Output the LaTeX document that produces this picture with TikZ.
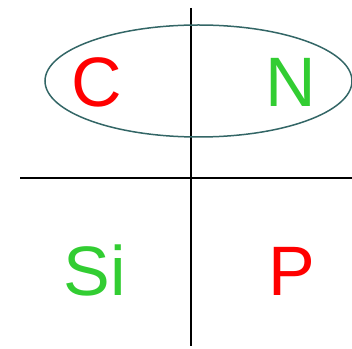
\documentclass[tikz,border=0pt]{standalone}
\usepackage{fontspec}
\setmainfont{Liberation Sans}
\usetikzlibrary{shapes.geometric}
\definecolor{elemred}{RGB}{255,0,0}
\definecolor{elemgreen}{RGB}{50,205,50}
\definecolor{ringcol}{RGB}{51,102,102}
\tikzset{
  elem/.style={font=\fontsize{70}{70}\selectfont, inner sep=0pt, anchor=base},
  axis/.style={line width=2pt, black}
}
\begin{document}
\begin{tikzpicture}[x=1pt, y=1pt]
  \useasboundingbox (0, 0) rectangle (352, 348);
  % axes
  \coordinate (top) at (191, 340);
  \coordinate (bottom) at (191, 2);
  \coordinate (left) at (20, 170);
  \coordinate (right) at (353, 170);
  \draw[axis] (top) -- (bottom);
  \draw[axis] (left) -- (right);

  % ring round the upper pair
  \node[draw=ringcol, line width=1.5pt, ellipse, minimum width=307pt, minimum height=112pt, inner sep=0pt] (pair) at (198.5, 267) {};

  % elements
  \node[elem, text=elemred] (C) at (96.5, 241) {C};
  \node[elem, text=elemgreen] (N) at (291, 241) {N};
  \node[elem, text=elemgreen] (Si) at (95, 53) {Si};
  \node[elem, text=elemred] (P) at (291.5, 53) {P};
\end{tikzpicture}
\end{document}
